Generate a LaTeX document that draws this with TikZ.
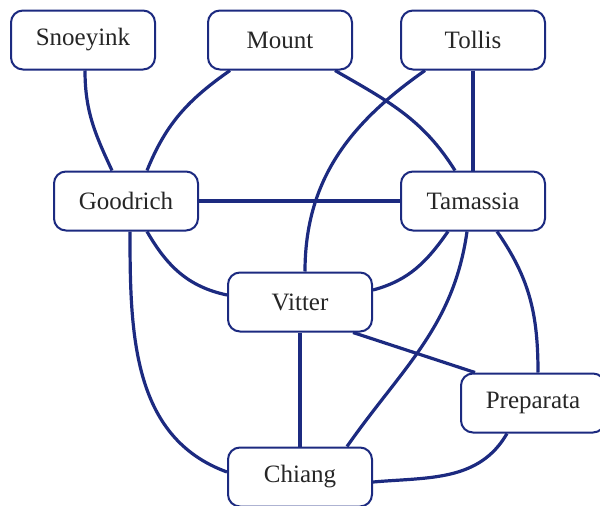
\documentclass[tikz,border=0pt]{standalone}
\usepackage{fontspec}
\setmainfont{Liberation Serif}
\definecolor{navy}{RGB}{28,42,128}
\begin{document}
\begin{tikzpicture}[x=1pt,y=-1pt,
  person/.style={draw=navy, line width=2pt, rounded corners=12pt, fill=white,
    minimum width=144pt, minimum height=59pt, inner sep=0pt,
    font=\fontsize{25}{29}\selectfont, text=black!85},
  link/.style={draw=navy, line width=3.2pt},
  thick link/.style={draw=navy, line width=4.2pt}]
\useasboundingbox (0,0) rectangle (600,506);
\path (83,40) coordinate (csn) (280,40) coordinate (cmo) (473,40) coordinate (cto)
  (126,201) coordinate (cgo) (473,201) coordinate (cta) (300,302) coordinate (cvi)
  (300,477) coordinate (cch) (533,403) coordinate (cpp);
\node[person] (sn) at (csn) {Snoeyink};
\node[person] (mo) at (cmo) {Mount};
\node[person] (to) at (cto) {Tollis};
\node[person] (go) at (cgo) {Goodrich};
\node[person] (ta) at (cta) {Tamassia};
\node[person] (vi) at (cvi) {Vitter};
\node[person] (ch) at (cch) {Chiang};
\node[person] (pp) at (cpp) {Preparata};
\draw[link] ([xshift=2pt]sn.south) to[out=-90,in=115] ([xshift=-14pt]go.north);
\draw[link] ([xshift=-50pt]mo.south) to[out=-145,in=68] ([xshift=21pt]go.north);
\draw[link] ([xshift=55pt]mo.south) to[out=-30,in=122] ([xshift=-18pt]ta.north);
\draw[link] ([xshift=-48pt]to.south) to[out=-145,in=90] ([xshift=5pt]vi.north);
\draw[link] (to.south) -- (ta.north);
\draw[thick link] (go.east) -- (ta.west);
\draw[link] ([xshift=21pt]go.south) to[out=-60,in=168] ([yshift=7pt]vi.west);
\draw[link] ([xshift=4pt]go.south) to[out=-90,in=160] ([yshift=5pt]ch.west);
\draw[link] ([xshift=-25pt]ta.south) to[out=-125,in=15] ([yshift=12pt]vi.east);
\draw[link] ([xshift=-6pt]ta.south) to[out=-98,in=55] ([xshift=47pt]ch.north);
\draw[link] ([xshift=24pt]ta.south) to[out=-55,in=90] ([xshift=5pt]pp.north);
\draw[thick link] (vi.south) -- (ch.north);
\draw[link] ([xshift=53pt]vi.south) -- ([xshift=-58pt]pp.north);
\draw[link] ([yshift=-5pt]ch.east) to[out=5,in=-120] ([xshift=-26pt]pp.south);
\end{tikzpicture}
\end{document}
